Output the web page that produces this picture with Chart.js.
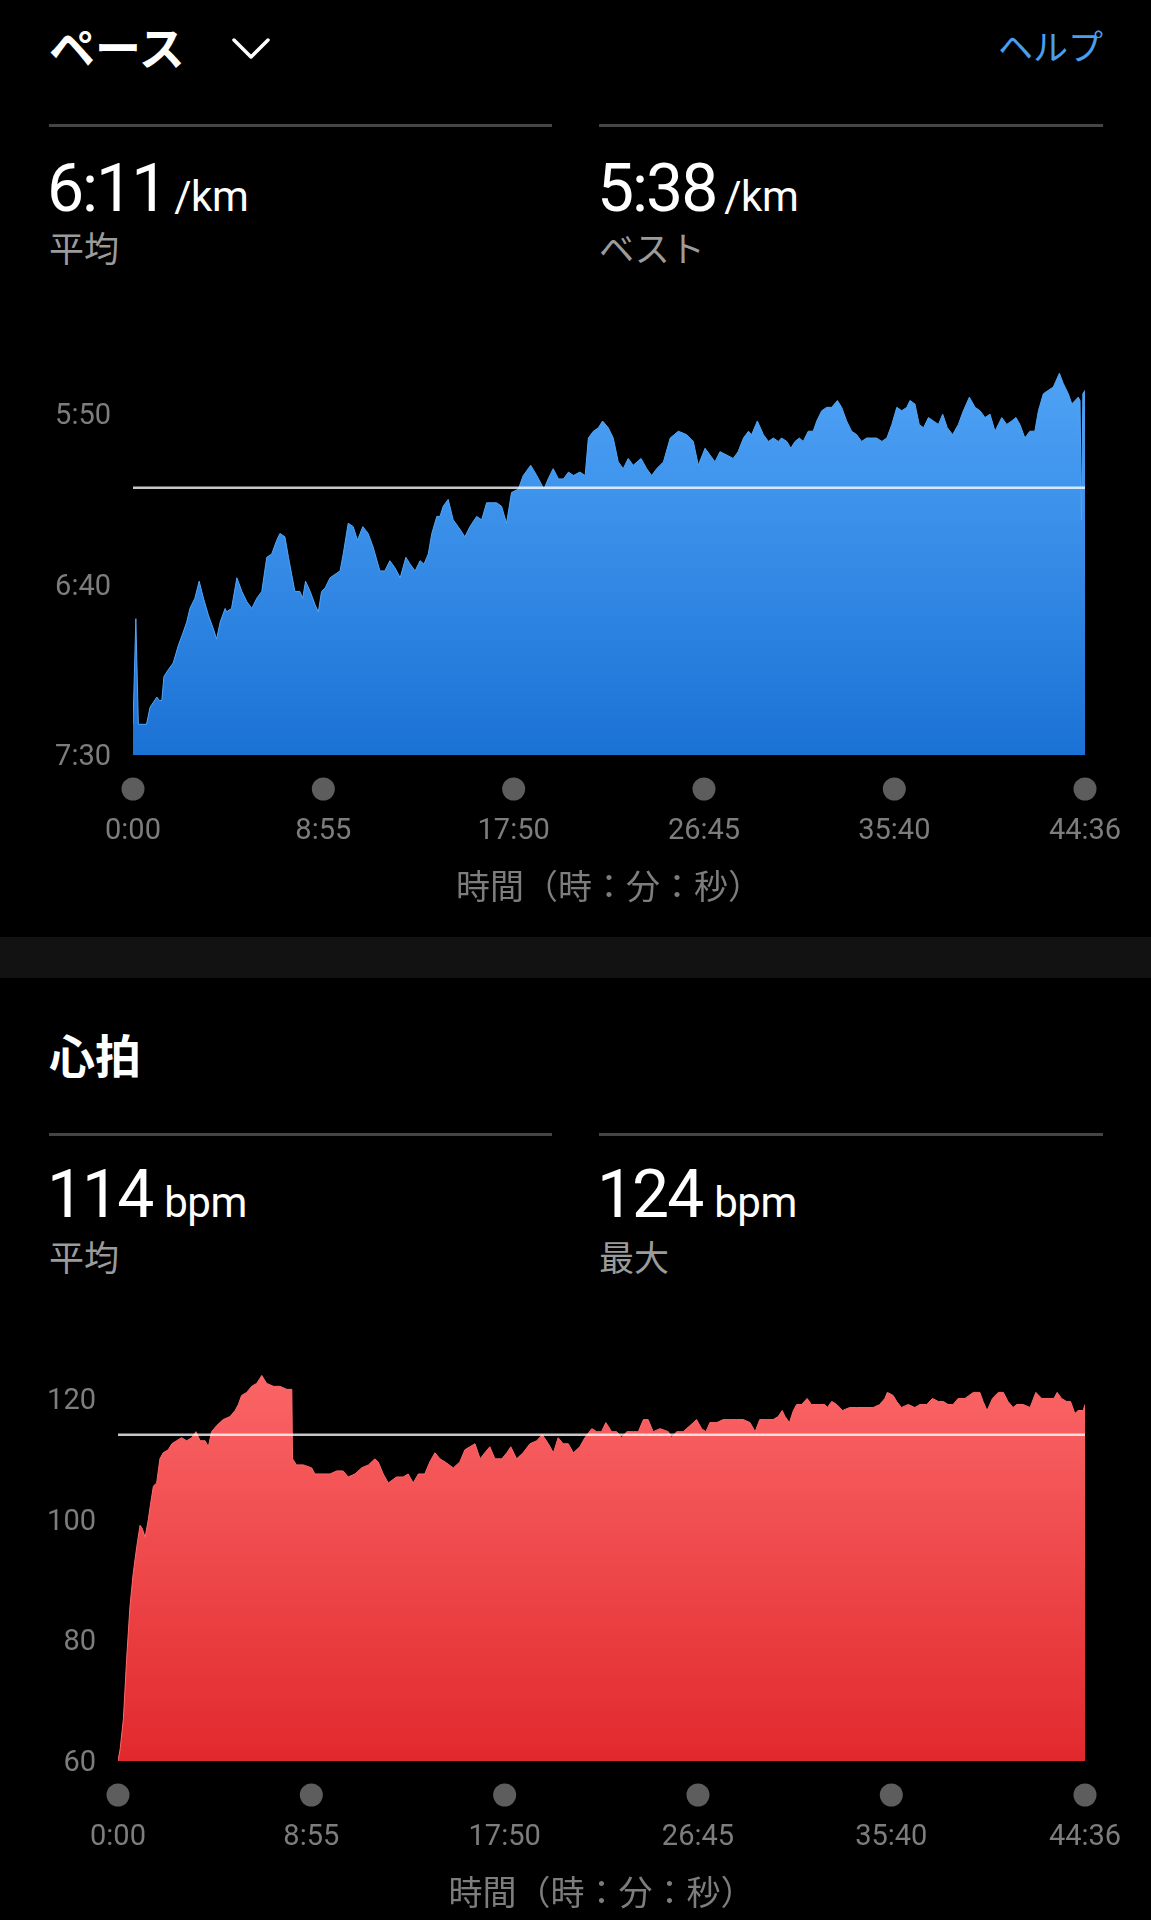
<!DOCTYPE html>
<html lang="ja">
<head>
<meta charset="utf-8">
<script src="https://cdn.jsdelivr.net/npm/chart.js@4.4.1/dist/chart.umd.min.js"></script>
<style>
  html, body { margin: 0; padding: 0; background: #000; }
  body { width: 1151px; height: 1920px; position: relative; overflow: hidden; color: #fff; font-family: Roboto, "Noto Sans CJK JP", sans-serif; }
  .abs { position: absolute; white-space: nowrap; }
  .title { font-family: "Noto Sans CJK JP"; font-weight: 700; font-size: 46px; line-height: 46px; }
  .help { font-family: "Noto Sans CJK JP"; font-size: 35px; line-height: 35px; color: #4a9ef0; }
  .rule { position: absolute; height: 3px; background: #454545; }
  .big { font-family: Roboto; font-size: 66px; line-height: 66px; letter-spacing: -2px; }
  .big span { font-size: 42px; margin-left: 8px; letter-spacing: -0.5px; }
  .big span.bpm { margin-left: 12px; }
  .sub { font-family: "Noto Sans CJK JP"; font-size: 35px; line-height: 35px; color: #9b9b9b; }
  .band { position: absolute; left: 0; top: 937px; width: 1151px; height: 41px; background: #121212; }
  canvas { position: absolute; left: 0; }
</style>
</head>
<body>

<div class="abs title" style="left:49px; top:22px;">ペース</div>
<svg class="abs" style="left:231px; top:36px;" width="42" height="26">
  <polyline points="3,4 20,21 37,4" fill="none" stroke="#fff" stroke-width="3.5" stroke-linecap="round" stroke-linejoin="round"/>
</svg>
<div class="abs help" style="right:48px; top:27px;">ヘルプ</div>
<div class="rule" style="left:49px; width:503px; top:124px;"></div>
<div class="rule" style="left:599px; width:504px; top:124px;"></div>
<div class="abs big" style="left:47px; top:156px;">6:11<span>/km</span></div>
<div class="abs big" style="left:597px; top:156px;">5:38<span>/km</span></div>
<div class="abs sub" style="left:49px; top:229px;">平均</div>
<div class="abs sub" style="left:599px; top:229px;">ベスト</div>

<canvas id="paceChart" width="1200" height="618" style="top:296px;"></canvas>

<div class="band"></div>

<div class="abs title" style="left:49px; top:1030px;">心拍</div>
<div class="rule" style="left:49px; width:503px; top:1133px;"></div>
<div class="rule" style="left:599px; width:504px; top:1133px;"></div>
<div class="abs big" style="left:47px; top:1162px;">114<span class="bpm">bpm</span></div>
<div class="abs big" style="left:597px; top:1162px;">124<span class="bpm">bpm</span></div>
<div class="abs sub" style="left:49px; top:1238px;">平均</div>
<div class="abs sub" style="left:599px; top:1238px;">最大</div>

<canvas id="hrChart" width="1200" height="632" style="top:1288px;"></canvas>

<script>
// elapsed time in seconds, pace in seconds per km
const paceTimes = [0, 8, 15, 38, 48, 67, 74, 81, 87, 99, 113, 127, 141, 151, 160, 174, 186, 198, 212, 226, 235, 245, 259, 263, 277, 292, 306, 320, 334, 348, 362, 376, 390, 404, 413, 427, 437, 446, 455, 469, 477, 485, 498, 512, 521, 530, 540, 554, 568, 582, 591, 605, 619, 631, 646, 661, 675, 694, 708, 722, 736, 751, 767, 779, 793, 807, 818, 830, 840, 854, 863, 872, 886, 900, 914, 933, 947, 966, 980, 994, 1008, 1022, 1036, 1050, 1064, 1083, 1097, 1118, 1135, 1155, 1167, 1181, 1196, 1210, 1224, 1238, 1256, 1271, 1280, 1294, 1308, 1320, 1336, 1350, 1364, 1378, 1392, 1406, 1428, 1444, 1458, 1472, 1491, 1510, 1533, 1556, 1575, 1589, 1608, 1622, 1636, 1650, 1669, 1687, 1701, 1716, 1730, 1739, 1755, 1772, 1786, 1800, 1814, 1823, 1838, 1849, 1861, 1873, 1884, 1898, 1912, 1922, 1936, 1950, 1964, 1980, 1992, 2006, 2020, 2034, 2048, 2062, 2076, 2090, 2105, 2119, 2133, 2147, 2161, 2175, 2184, 2198, 2210, 2222, 2236, 2250, 2264, 2276, 2289, 2304, 2320, 2334, 2351, 2367, 2381, 2395, 2409, 2423, 2442, 2456, 2470, 2482, 2493, 2507, 2521, 2535, 2545, 2559, 2573, 2587, 2604, 2615, 2629, 2639, 2648, 2657, 2662, 2666, 2670, 2676];
const paceValues = [441, 410, 441, 441, 436, 433, 434, 434, 427, 425, 423, 418, 414, 411, 407, 404, 399, 404, 409, 413, 416, 411, 407, 408, 407, 398, 402, 405, 407, 404, 402, 392, 391, 387, 385, 386, 392, 397, 402, 402, 404, 399, 402, 406, 408, 402, 401, 398, 397, 396, 391, 382, 383, 387, 383, 385, 389, 396, 396, 393, 395, 398, 392, 394, 396, 393, 394, 391, 385, 380, 380, 377, 375, 381, 383, 386, 383, 380, 381, 376, 376, 376, 377, 382, 373, 372, 368, 365, 368, 372, 369, 366, 369, 369, 367, 368, 367, 368, 357, 355, 354, 352, 354, 357, 364, 366, 363, 365, 363, 366, 368, 366, 364, 357, 355, 356, 358, 365, 360, 362, 364, 361, 362, 363, 361, 357, 355, 356, 352, 356, 358, 357, 358, 357, 358, 360, 358, 357, 358, 355, 355, 352, 349, 348, 348, 346, 348, 352, 355, 356, 358, 357, 357, 357, 358, 357, 353, 348, 349, 348, 346, 347, 353, 354, 351, 352, 353, 350, 354, 356, 353, 349, 345, 348, 349, 351, 350, 355, 351, 353, 352, 351, 353, 357, 355, 355, 349, 344, 343, 342, 338, 341, 344, 347, 346, 345, 346, 381, 344, 343];

// heart rate in bpm
const hrTimes = [0, 6, 15, 24, 33, 42, 52, 61, 67, 75, 84, 90, 98, 107, 116, 125, 139, 149, 162, 176, 190, 204, 216, 227, 241, 250, 259, 273, 291, 310, 324, 333, 342, 356, 370, 384, 398, 411, 430, 448, 467, 481, 483, 494, 513, 536, 545, 568, 587, 605, 623, 637, 656, 674, 693, 711, 720, 734, 748, 771, 789, 803, 817, 831, 849, 863, 877, 891, 905, 928, 946, 960, 974, 988, 1002, 1015, 1029, 1043, 1062, 1076, 1087, 1103, 1121, 1140, 1159, 1174, 1191, 1205, 1218, 1232, 1246, 1260, 1278, 1292, 1311, 1325, 1338, 1350, 1366, 1380, 1394, 1408, 1426, 1440, 1454, 1467, 1481, 1500, 1523, 1532, 1546, 1564, 1583, 1601, 1615, 1627, 1638, 1657, 1675, 1693, 1712, 1730, 1749, 1763, 1776, 1795, 1813, 1827, 1838, 1846, 1858, 1869, 1878, 1892, 1907, 1919, 1938, 1956, 1963, 1975, 1989, 2005, 2025, 2044, 2067, 2090, 2108, 2122, 2129, 2145, 2155, 2168, 2187, 2205, 2219, 2238, 2254, 2270, 2284, 2297, 2311, 2325, 2344, 2367, 2385, 2394, 2405, 2420, 2436, 2450, 2463, 2477, 2487, 2505, 2524, 2540, 2556, 2574, 2590, 2599, 2611, 2625, 2636, 2648, 2657, 2671, 2676];
const hrValues = [60, 62, 67, 77, 85.5, 91, 95.5, 99, 98.5, 97, 100, 102.5, 105.5, 106, 110, 111, 111.5, 112.5, 113, 113.5, 113, 113.5, 114.5, 113, 113, 112, 114.5, 115.5, 116.5, 117, 118, 119, 120.5, 121, 122, 122.5, 123.8, 122.5, 122, 122, 121.5, 121.5, 110, 109, 109, 108.5, 107.5, 107.5, 107.5, 108, 108, 107, 107.5, 108.5, 109, 110, 109.5, 107.5, 106, 107, 107, 107.5, 106, 107.5, 107.5, 109.5, 111, 110, 109.5, 108.5, 109.5, 111.5, 112, 112.5, 110, 111, 112, 110, 110, 111, 112, 110, 111, 112.5, 113, 114, 112.5, 111, 113.5, 112.5, 112.5, 111, 112, 113.5, 115, 114.5, 114.5, 116, 114.5, 114.5, 113.5, 114.5, 114.5, 114.5, 116.5, 116.5, 114.5, 115, 114.5, 113.5, 114.5, 114.5, 115.5, 116.5, 115, 114.5, 116, 116, 116.5, 116.5, 116.5, 116.5, 116, 114.5, 116.5, 116.5, 116.5, 117, 118, 117, 116, 118, 119, 119, 120, 119, 119, 119, 118.5, 119.5, 119, 118, 118.5, 118.5, 118.5, 118.5, 119, 120, 121, 120.5, 119.5, 118.5, 119, 118.5, 119, 119, 120, 119.5, 119.5, 119, 119, 120, 120, 121, 121, 119.5, 118, 120, 121, 121, 119.5, 118.5, 119, 119, 118.5, 121, 120, 120, 120, 121, 120, 119.5, 119.5, 117.5, 118, 118, 119];

const totalTime = 2676;                      // 44:36
const timeTicks = [0, 535, 1070, 1605, 2140, 2676];
const paceTicks = [350, 400, 450];           // 5:50, 6:40, 7:30
const hrTicks = [60, 80, 100, 120];
const avgPace = 371.6;                       // shown as 6:11 /km
const avgHr = 114;

const grey = "#7d7d7d";

function mmss(sec) {
  const m = Math.floor(sec / 60);
  const s = Math.round(sec - m * 60);
  return m + ":" + String(s).padStart(2, "0");
}

const tickDots = {
  id: "tickDots",
  afterDraw(chart) {
    const ctx = chart.ctx;
    const xs = chart.scales.x;
    const y = chart.chartArea.bottom + 34;
    ctx.save();
    ctx.fillStyle = "#5d5d5d";
    xs.ticks.forEach(t => {
      ctx.beginPath();
      ctx.arc(xs.getPixelForValue(t.value), y, 11.5, 0, Math.PI * 2);
      ctx.fill();
    });
    ctx.restore();
  }
};

function drawArea(id, times, values, avg, yMin, yMax, yTicks, reverse, yLabel, axisWidth, topColor, bottomColor) {
  const points = times.map((t, i) => ({ x: t, y: values[i] }));
  const ctx = document.getElementById(id).getContext("2d");

  return new Chart(ctx, {
    type: "line",
    data: {
      datasets: [
        {
          data: [{ x: 0, y: avg }, { x: totalTime, y: avg }],
          borderColor: "rgba(255,255,255,0.78)",
          borderWidth: 2.5,
          pointRadius: 0,
          fill: false,
          order: 0
        },
        {
          data: points,
          borderColor: topColor,
          borderWidth: 1,
          pointRadius: 0,
          tension: 0,
          fill: { value: reverse ? yMax : yMin },
          backgroundColor: c => {
            const a = c.chart.chartArea;
            if (!a) return topColor;
            const g = c.chart.ctx.createLinearGradient(0, a.top, 0, a.bottom);
            g.addColorStop(0, topColor);
            g.addColorStop(1, bottomColor);
            return g;
          },
          order: 1
        }
      ]
    },
    options: {
      responsive: false,
      animation: false,
      layout: { padding: { left: 0, right: 115, top: 50, bottom: 0 } },
      plugins: { legend: { display: false }, tooltip: { enabled: false } },
      scales: {
        x: {
          type: "linear",
          min: 0,
          max: totalTime,
          afterBuildTicks: s => { s.ticks = timeTicks.map(v => ({ value: v })); },
          afterFit: s => { s.height = 159; },
          grid: { display: false, drawTicks: false },
          border: { display: false },
          ticks: {
            color: grey,
            padding: 59,
            maxRotation: 0,
            font: { family: "Roboto", size: 29 },
            callback: v => mmss(v)
          },
          title: {
            display: true,
            text: "時間（時：分：秒）",
            color: grey,
            font: { family: "Noto Sans CJK JP", size: 34 },
            padding: { top: 0, bottom: 8 }
          }
        },
        y: {
          type: "linear",
          min: yMin,
          max: yMax,
          reverse: reverse,
          afterBuildTicks: s => { s.ticks = yTicks.map(v => ({ value: v })); },
          afterFit: s => { s.width = axisWidth; },
          grid: { display: false, drawTicks: false },
          border: { display: false },
          ticks: {
            color: grey,
            padding: 22,
            labelOffset: 3,
            font: { family: "Roboto", size: 29 },
            callback: v => yLabel(v)
          }
        }
      }
    },
    plugins: [tickDots]
  });
}

drawArea("paceChart", paceTimes, paceValues, avgPace, 330, 450, paceTicks, true, mmss, 133, "#52a6f8", "#1b72d5");
drawArea("hrChart", hrTimes, hrValues, avgHr, 60, 130, hrTicks, false, v => String(v), 118, "#fd6b6c", "#e1292d");
</script>
</body>
</html>
